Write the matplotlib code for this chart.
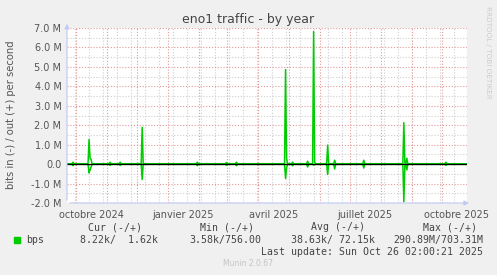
import matplotlib
matplotlib.use('Agg')
import matplotlib.pyplot as plt
from matplotlib.ticker import MultipleLocator, FuncFormatter
from matplotlib.patches import Rectangle
import pandas as pd

# samples (bits per second, in millions)
dates = ['2024-09-22', '2024-09-27', '2024-09-28', '2024-09-29',
         '2024-10-12', '2024-10-13', '2024-10-14', '2024-10-15', '2024-10-16', '2024-10-17',
         '2024-11-03', '2024-11-04', '2024-11-05',
         '2024-11-13', '2024-11-14', '2024-11-15',
         '2024-12-05', '2024-12-06', '2024-12-07',
         '2025-01-29', '2025-01-30', '2025-01-31',
         '2025-02-27', '2025-02-28', '2025-03-01',
         '2025-03-09', '2025-03-10', '2025-03-11',
         '2025-04-27', '2025-04-28', '2025-04-29', '2025-04-30',
         '2025-05-04', '2025-05-05', '2025-05-06',
         '2025-05-19', '2025-05-20', '2025-05-21',
         '2025-05-25', '2025-05-26', '2025-05-27', '2025-05-28',
         '2025-06-08', '2025-06-09', '2025-06-10',
         '2025-06-15', '2025-06-16', '2025-06-17',
         '2025-07-14', '2025-07-15', '2025-07-16',
         '2025-08-23', '2025-08-24', '2025-08-25', '2025-08-26', '2025-08-27', '2025-08-28',
         '2025-10-04', '2025-10-05', '2025-10-06',
         '2025-10-26']
out_bps = [0.02, 0.02, 0.10, 0.02,
           0.02, 0.05, 1.27, 0.30, 0.25, 0.02,
           0.02, 0.10, 0.02,
           0.02, 0.10, 0.02,
           0.02, 1.89, 0.02,
           0.02, 0.10, 0.02,
           0.02, 0.08, 0.02,
           0.02, 0.10, 0.02,
           0.02, 4.86, 0.30, 0.02,
           0.02, 0.10, 0.02,
           0.02, 0.15, 0.02,
           0.02, 6.82, 0.10, 0.02,
           0.02, 0.98, 0.02,
           0.02, 0.20, 0.02,
           0.02, 0.20, 0.02,
           0.02, 2.13, 0.05, 0.02, 0.30, 0.02,
           0.02, 0.10, 0.02,
           0.01]
in_bps = [-0.01, -0.01, -0.08, -0.01,
          -0.01, -0.02, -0.45, -0.30, -0.15, -0.01,
          -0.01, -0.06, -0.01,
          -0.01, -0.06, -0.01,
          -0.01, -0.79, -0.01,
          -0.01, -0.08, -0.01,
          -0.01, -0.05, -0.01,
          -0.01, -0.08, -0.01,
          -0.01, -0.74, -0.20, -0.01,
          -0.01, -0.08, -0.01,
          -0.01, -0.15, -0.01,
          -0.01, -0.05, -0.02, -0.01,
          -0.01, -0.53, -0.01,
          -0.01, -0.25, -0.01,
          -0.01, -0.20, -0.01,
          -0.01, -1.94, -0.10, -0.01, -0.30, -0.01,
          -0.01, -0.06, -0.01,
          -0.01]
tick_labels = ['octobre 2024', 'janvier 2025', 'avril 2025', 'juillet 2025', 'octobre 2025']
tick_dates = ['2024-10-16', '2025-01-16', '2025-04-16', '2025-07-16', '2025-10-16']
headers = ['Cur (-/+)', 'Min (-/+)', 'Avg (-/+)', 'Max (-/+)']
values = ['8.22k/  1.62k', '3.58k/756.00', '38.63k/ 72.15k', '290.89M/703.31M']

W, H = 497, 275
bg = '#f0f0f0'
txt = '#555555'
green = '#00cc00'

fig = plt.figure(figsize=(W / 100, H / 100), dpi=100, facecolor=bg)
ax = fig.add_axes([67 / W, 1 - 203 / H, 400 / W, 175 / H], facecolor='white')

x = pd.to_datetime(dates)
start, end = pd.Timestamp('2024-09-22'), pd.Timestamp('2025-10-26')

# grid
minor = dict(color='#cfcfcf', lw=0.8, ls=(0, (1, 1.6)), zorder=1)
major = dict(color='#e29a9a', lw=0.8, ls=(0, (1, 1.6)), zorder=1)
for d in pd.date_range('2024-09-30', end, freq='14D'):
    ax.axvline(d, **minor)
for d in pd.date_range('2024-10-01', end, freq='MS'):
    ax.axvline(d, **major)
for v in [-1.5, -0.5, 0.5, 1.5, 2.5, 3.5, 4.5, 5.5, 6.5]:
    ax.axhline(v, **minor)
for v in range(-2, 8):
    ax.axhline(v, **major)

ax.plot(x, out_bps, color=green, lw=1.1, zorder=3)
ax.plot(x, in_bps, color=green, lw=1.1, zorder=3)
ax.axhline(0, color='black', lw=0.9, zorder=4)

ax.set_xlim(start, end)
ax.set_ylim(-2, 7)
ax.yaxis.set_major_locator(MultipleLocator(1))
ax.yaxis.set_major_formatter(FuncFormatter(lambda v, p: '0.0' if abs(v) < 1e-9 else '%.1f M' % v))
ax.set_xticks(pd.to_datetime(tick_dates))
ax.set_xticklabels(tick_labels)
ax.tick_params(length=0, labelsize=7, colors=txt, pad=4)
ax.tick_params(axis='x', pad=5)
for s in ax.spines.values():
    s.set_visible(False)

ax.annotate('', xy=(0, 1.04), xytext=(0, 0), xycoords='axes fraction',
            arrowprops=dict(arrowstyle='-|>', color='#c0c8f4', lw=0.8, mutation_scale=7),
            annotation_clip=False, zorder=5)
ax.annotate('', xy=(1.012, 0), xytext=(0, 0), xycoords='axes fraction',
            arrowprops=dict(arrowstyle='-|>', color='#c0c8f4', lw=0.8, mutation_scale=7),
            annotation_clip=False, zorder=5)

def px(xp, yp, s, **kw):
    fig.text(xp / W, 1 - yp / H, s, **kw)

px(248, 19, 'eno1 traffic - by year', ha='center', va='center', fontsize=9, color='#444444')
px(11, 115, 'bits in (-) / out (+) per second', ha='center', va='center', rotation=90,
   fontsize=7.2, color=txt)
px(488, 52, 'RRDTOOL / TOBI OETIKER', ha='center', va='center', rotation=270,
   fontsize=5.2, color='#cccccc')

mono = dict(family='DejaVu Sans Mono', fontsize=7.15, color='#444444', va='center')
for h, xr in zip(headers, [142, 254, 365, 477]):
    px(xr, 227, h, ha='right', **mono)
for v, xr in zip(values, [158, 261, 375, 483]):
    px(xr, 240, v, ha='right', **mono)
px(26.5, 240, 'bps', ha='left', **mono)
fig.add_artist(Rectangle((14 / W, 1 - 243 / H), 5.5 / W, 6 / H, transform=fig.transFigure,
                         color=green))
px(483, 252, 'Last update: Sun Oct 26 02:00:21 2025', ha='right', **mono)
px(248, 264, 'Munin 2.0.67', ha='center', va='center', fontsize=5.5, color='#c4c4c4')

plt.savefig('out.png', dpi=100, facecolor=bg)
